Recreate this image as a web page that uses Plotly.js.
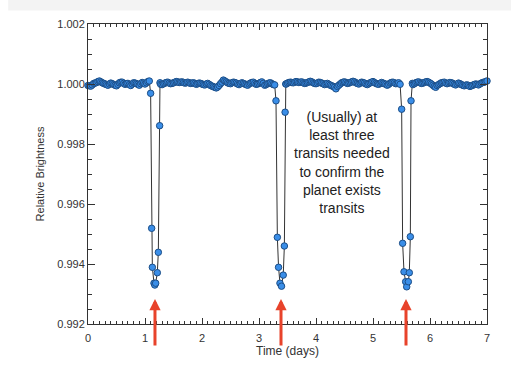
<!DOCTYPE html>
<html>
<head>
<meta charset="utf-8">
<script src="https://cdn.plot.ly/plotly-3.0.1.min.js"></script>
<style>html,body{margin:0;padding:0;background:#fff;}#chart{width:511px;height:387px;}</style>
</head>
<body>
<div id="chart"></div>
<script>
// Baseline segment 1 (before first transit)
var tBase1 = [0.000,0.025,0.050,0.075,0.100,0.125,0.150,0.175,0.200,0.225,
  0.250,0.275,0.300,0.325,0.350,0.375,0.400,0.425,0.450,0.475,
  0.500,0.525,0.550,0.575,0.600,0.625,0.650,0.675,0.700,0.725,
  0.750,0.775,0.800,0.825,0.850,0.875,0.900,0.925,0.950,0.975,
  1.000,1.025,1.050,1.075];
var vBase1 = [0.99995,0.99994,0.99993,0.99997,1.00002,1.00003,1.00005,1.00008,1.00010,1.00007,
  1.00004,1.00002,1.00000,0.99998,0.99996,1.00000,1.00003,1.00001,0.99998,0.99996,
  0.99994,0.99999,1.00004,1.00006,1.00006,1.00002,0.99999,1.00001,1.00002,0.99998,
  0.99995,1.00000,1.00004,1.00003,1.00001,0.99999,0.99996,1.00001,1.00005,1.00003,
  1.00000,1.00004,1.00008,1.00010];
// Transit 1
var tTransit1 = [1.099,1.117,1.129,1.158,1.172,1.187,1.216,1.234,1.257,1.263];
var vTransit1 = [0.99969,0.99519,0.99389,0.99336,0.99330,0.99336,0.99371,0.99439,0.99861,1.00004];
// Baseline segment 2
var tBase2 = [1.275,1.300,1.325,1.350,1.375,1.400,1.425,1.450,1.475,1.500,
  1.525,1.550,1.575,1.600,1.625,1.650,1.675,1.700,1.725,1.750,
  1.775,1.800,1.825,1.850,1.875,1.900,1.925,1.950,1.975,2.000,
  2.025,2.050,2.075,2.100,2.125,2.150,2.175,2.200,2.225,2.250,
  2.275,2.300,2.325,2.350,2.375,2.400,2.425,2.450,2.475,2.500,
  2.525,2.550,2.575,2.600,2.625,2.650,2.675,2.700,2.725,2.750,
  2.775,2.800,2.825,2.850,2.875,2.900,2.925,2.950,2.975,3.000,
  3.025,3.050,3.075,3.100,3.125,3.150,3.175,3.200,3.225,3.250,
  3.275];
var vBase2 = [0.99999,0.99998,1.00001,1.00003,1.00005,1.00006,1.00003,1.00001,1.00002,1.00004,
  1.00006,1.00008,1.00007,1.00005,1.00006,1.00007,1.00005,1.00003,1.00004,1.00006,
  1.00004,1.00002,1.00003,1.00004,1.00002,0.99999,1.00001,1.00003,1.00002,1.00000,
  0.99998,0.99997,1.00000,1.00002,0.99999,0.99995,0.99993,0.99991,0.99989,0.99987,
  0.99990,0.99995,1.00001,1.00006,1.00013,1.00010,1.00007,1.00004,1.00002,1.00001,
  1.00004,1.00006,1.00005,1.00003,1.00000,0.99998,1.00001,1.00004,1.00002,1.00000,
  0.99998,0.99996,1.00000,1.00003,1.00005,1.00006,1.00002,0.99999,1.00000,1.00002,
  1.00005,1.00007,1.00002,0.99996,0.99998,1.00001,1.00003,1.00004,1.00001,0.99998,
  0.99997];
// Transit 2
var tTransit2 = [3.298,3.322,3.343,3.368,3.395,3.425,3.445,3.458,3.470];
var vTransit2 = [0.99944,0.99489,0.99389,0.99336,0.99326,0.99363,0.99460,0.99906,1.00000];
// Baseline segment 3
var tBase3 = [3.475,3.500,3.525,3.550,3.575,3.600,3.625,3.650,3.675,3.700,
  3.725,3.750,3.775,3.800,3.825,3.850,3.875,3.900,3.925,3.950,
  3.975,4.000,4.025,4.050,4.075,4.100,4.125,4.150,4.175,4.200,
  4.225,4.250,4.275,4.300,4.325,4.350,4.375,4.400,4.425,4.450,
  4.475,4.500,4.525,4.550,4.575,4.600,4.625,4.650,4.675,4.700,
  4.725,4.750,4.775,4.800,4.825,4.850,4.875,4.900,4.925,4.950,
  4.975,5.000,5.025,5.050,5.075,5.100,5.125,5.150,5.175,5.200,
  5.225,5.250,5.275,5.300,5.325,5.350,5.375,5.400,5.425,5.450,
  5.475];
var vBase3 = [1.00000,1.00003,1.00005,1.00006,1.00005,1.00004,1.00006,1.00008,1.00007,1.00005,
  1.00006,1.00007,1.00004,1.00002,1.00003,1.00005,1.00007,1.00009,1.00007,1.00004,
  1.00002,1.00001,1.00003,1.00006,1.00005,1.00003,1.00001,0.99998,1.00000,1.00002,
  0.99999,0.99996,0.99994,0.99992,0.99989,0.99984,0.99992,0.99996,1.00000,1.00004,
  1.00006,1.00007,1.00005,1.00002,1.00003,1.00005,1.00007,1.00009,1.00007,1.00004,
  1.00002,1.00000,1.00003,1.00006,1.00005,1.00003,1.00000,0.99998,1.00001,1.00004,
  1.00006,1.00008,1.00005,1.00002,1.00000,0.99999,1.00002,1.00005,1.00003,1.00001,
  0.99999,0.99996,0.99999,1.00003,1.00005,1.00006,1.00004,1.00001,1.00002,1.00004,
  0.99999];
// Transit 3
var tTransit3 = [5.503,5.520,5.544,5.573,5.591,5.620,5.637,5.655,5.667,5.690];
var vTransit3 = [0.99916,0.99469,0.99374,0.99341,0.99324,0.99341,0.99371,0.99491,0.99944,1.00002];
// Baseline segment 4
var tBase4 = [5.700,5.725,5.750,5.775,5.800,5.825,5.850,5.875,5.900,5.925,
  5.950,5.975,6.000,6.025,6.050,6.075,6.100,6.125,6.150,6.175,
  6.200,6.225,6.250,6.275,6.300,6.325,6.350,6.375,6.400,6.425,
  6.450,6.475,6.500,6.525,6.550,6.575,6.600,6.625,6.650,6.675,
  6.700,6.725,6.750,6.775,6.800,6.825,6.850,6.875,6.900,6.925,
  6.950,6.975,7.000];
var vBase4 = [0.99998,1.00001,1.00004,1.00006,1.00007,1.00004,1.00002,1.00003,1.00005,1.00007,
  1.00008,1.00006,1.00003,1.00000,0.99996,0.99992,0.99989,0.99995,0.99998,1.00001,
  1.00004,1.00005,1.00006,1.00003,1.00001,1.00003,1.00005,1.00004,1.00002,0.99999,
  0.99997,1.00000,1.00003,1.00001,0.99998,0.99996,0.99994,0.99996,0.99997,0.99995,
  0.99992,0.99994,0.99996,0.99998,1.00000,0.99999,0.99997,1.00000,1.00003,1.00005,
  1.00006,1.00008,1.00010];

var arrowTimes = [1.175, 3.386, 5.579];
var arrowTipValue = 0.99283;
var noteText = "(Usually) at<br>least three<br>transits needed<br>to confirm the<br>planet exists<br>transits";
var noteTime = 4.46;
var noteValue = 0.99737;

var xTickVals = [0,1,2,3,4,5,6,7];
var yTickVals = [0.992,0.994,0.996,0.998,1.000,1.002];

var times = [].concat(tBase1, tTransit1, tBase2, tTransit2, tBase3, tTransit3, tBase4);
var values = [].concat(vBase1, vTransit1, vBase2, vTransit2, vBase3, vTransit3, vBase4);

var trace = {
  x: times, y: values, type: 'scatter', mode: 'lines+markers',
  line: {color: '#333333', width: 1},
  marker: {size: 6.5, color: '#3a8ee8', line: {color: '#1d4e86', width: 1}},
  cliponaxis: false, hoverinfo: 'skip'
};

var annotations = arrowTimes.map(function(t){
  return {x: t, y: arrowTipValue, xref: 'x', yref: 'y', text: '', showarrow: true,
    ax: 0, ay: 48, arrowhead: 2, arrowsize: 0.75, arrowwidth: 3, arrowcolor: '#e8432b', standoff: 0};
});
annotations.push({x: noteTime, y: noteValue, xref: 'x', yref: 'y', text: noteText, showarrow: false,
  font: {family: 'Liberation Sans, Arial, sans-serif', size: 14, color: '#222'}, align: 'center'});

var axisFont = {family: 'Liberation Sans, Arial, sans-serif', size: 11, color: '#333'};

var layout = {
  width: 511, height: 387,
  margin: {l: 88, r: 24, t: 24, b: 63},
  paper_bgcolor: '#ffffff', plot_bgcolor: '#ffffff',
  showlegend: false,
  xaxis: {
    range: [0, 7], tickvals: xTickVals, ticktext: xTickVals.map(String),
    ticks: 'inside', ticklen: 6, tickwidth: 1, tickcolor: '#333', ticklabelstandoff: 4,
    minor: {dtick: 0.1, ticks: 'inside', ticklen: 3, tickcolor: '#333', tickwidth: 1, showgrid: false},
    showline: true, linecolor: '#333', linewidth: 1, mirror: 'ticks',
    showgrid: false, zeroline: false, tickfont: axisFont,
    title: {text: 'Time (days)', font: {family: 'Liberation Sans, Arial, sans-serif', size: 12, color: '#333'}, standoff: 0}
  },
  yaxis: {
    range: [0.992, 1.002], tickvals: yTickVals, tickformat: '.3f',
    ticks: 'inside', ticklen: 7, tickwidth: 1, tickcolor: '#333',
    minor: {dtick: 0.0005, ticks: 'inside', ticklen: 4, tickcolor: '#333', tickwidth: 1, showgrid: false},
    showline: true, linecolor: '#333', linewidth: 1, mirror: 'ticks',
    showgrid: false, zeroline: false, tickfont: axisFont,
    title: {text: 'Relative Brightness', font: {family: 'Liberation Sans, Arial, sans-serif', size: 11, color: '#333'}, standoff: 10}
  },
  shapes: [{type: 'rect', xref: 'paper', yref: 'paper', x0: -0.2, x1: 1.1, y0: 1.045, y1: 1.09,
    fillcolor: '#f3f3f3', line: {width: 0}, layer: 'below'}],
  annotations: annotations
};

Plotly.newPlot('chart', [trace], layout, {displayModeBar: false, staticPlot: true});
</script>
</body>
</html>
